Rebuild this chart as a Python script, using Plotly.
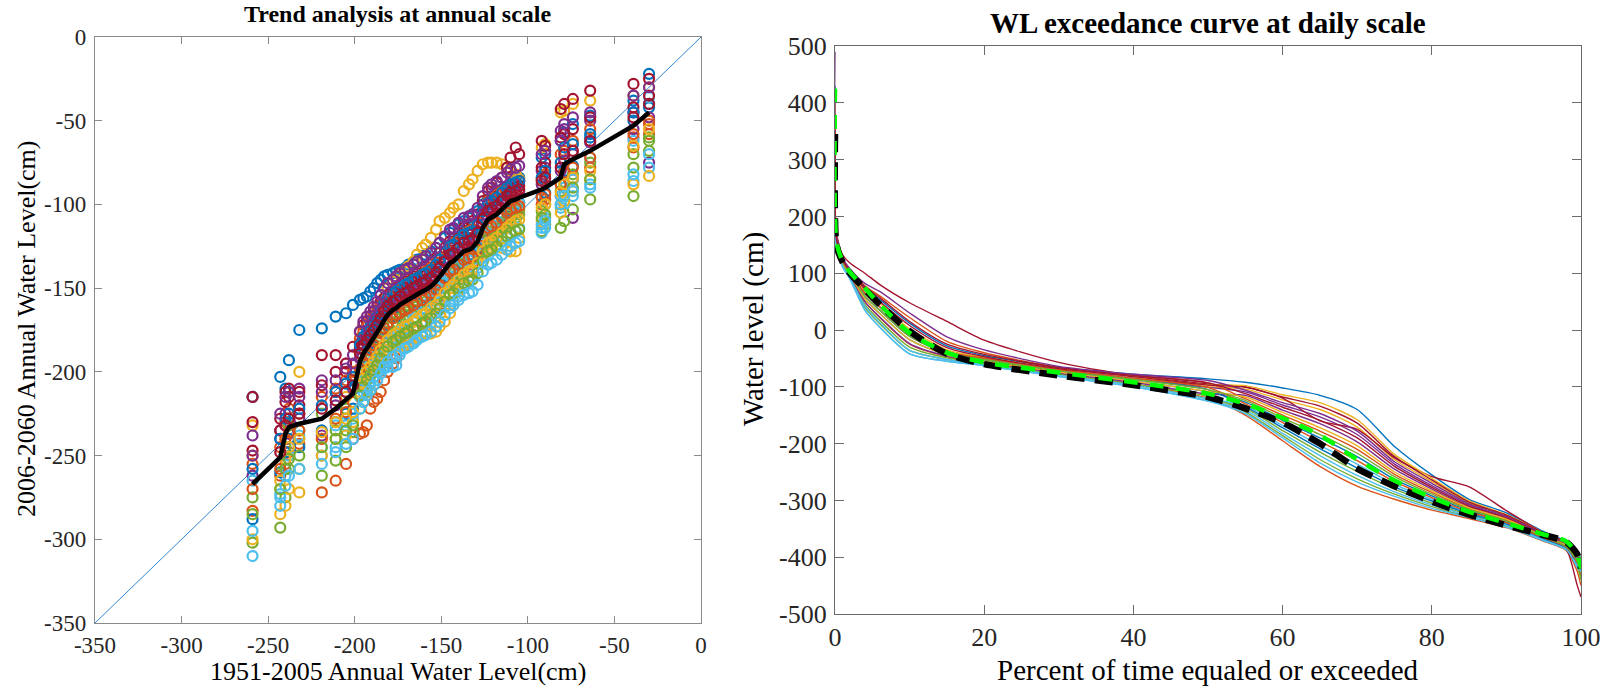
import plotly.graph_objects as go

FONT = "Liberation Serif"
MATLAB_COLORS = ['#0072BD', '#D95319', '#EDB120', '#7E2F8E', '#77AC30', '#4DBEEE', '#A2142F']

# ---------------- Left panel data ----------------
X_HIST = [-259, -243, -240, -238, -232, -219, -211, -205, -201,
          -197, -195, -193, -191, -189, -187, -185, -183, -181, -178,
          -176, -174, -171, -169, -166, -164, -161, -159, -156, -153,
          -151, -148, -145, -143, -140, -137, -134, -132, -129, -126,
          -123, -121, -118, -115, -112, -110, -107, -105,
          -92, -90, -81, -79, -74, -64, -39, -30]

MEAN_FUT = [-267, -251, -237, -233, -231, -228, -222, -217, -213,
            -194, -189, -186, -183, -180, -177, -173, -169, -166, -163,
            -162, -160, -158, -157, -155, -154, -152, -151, -149, -146,
            -143, -139, -135, -134, -131, -128, -127, -126, -122, -114,
            -109, -108, -106, -103, -100, -98, -97, -96,
            -91, -90, -84, -76, -73, -68, -53, -45]

S01 = [-215, -203, -210, -193, -175, -174, -167, -165, -160,
       -157, -156, -155, -152, -150, -147, -145, -143, -142, -141,
       -140, -139, -138, -136, -135, -133, -132, -130, -128, -126,
       -123, -120, -117, -115, -112, -110, -108, -106, -104, -100,
       -97, -95, -93, -91, -89, -87, -85, -84,
       -72, -70, -62, -57, -52, -47, -38, -22]
S02 = [-283, -262, -255, -248, -243, -272, -265, -255, -240,
       -237, -236, -232, -222, -218, -216, -212, -205, -200, -195,
       -192, -188, -185, -180, -178, -175, -172, -170, -166, -162,
       -160, -155, -150, -147, -143, -140, -138, -136, -132, -126,
       -121, -118, -116, -113, -110, -107, -105, -103,
       -100, -97, -95, -90, -85, -78, -66, -58]
S03 = [-232, -270, -240, -228, -200, -240, -228, -215, -205,
       -185, -183, -180, -175, -170, -165, -160, -156, -150, -146,
       -145, -142, -140, -137, -134, -130, -126, -124, -120, -115,
       -110, -108, -105, -102, -100, -92, -88, -85, -80, -76,
       -75, -75, -75, -76, -78, -80, -82, -85,
       -66, -64, -45, -44, -40, -38, -35, -30]
S04 = [-238, -235, -225, -230, -210, -205, -212, -195, -190,
       -183, -180, -177, -174, -171, -168, -165, -162, -158, -155,
       -153, -152, -150, -148, -146, -145, -143, -142, -140, -137,
       -135, -132, -128, -126, -123, -120, -118, -117, -113, -106,
       -100, -99, -97, -94, -91, -90, -88, -86,
       -80, -78, -56, -55, -108, -50, -45, -75]
S05 = [-302, -293, -275, -258, -258, -262, -253, -245, -236,
       -222, -218, -212, -207, -203, -198, -195, -190, -187, -183,
       -180, -177, -175, -172, -170, -168, -165, -163, -160, -157,
       -154, -150, -146, -143, -140, -136, -133, -131, -128, -124,
       -120, -118, -115, -113, -112, -110, -108, -106,
       -116, -112, -114, -110, -103, -97, -95, -62]
S06 = [-310, -273, -262, -250, -240, -250, -245, -232, -228,
       -215, -212, -210, -206, -203, -200, -199, -198, -197, -197,
       -196, -190, -186, -183, -182, -180, -178, -176, -172, -167,
       -163, -161, -160, -158, -155, -150, -146, -143, -138, -132,
       -128, -126, -124, -122, -120, -118, -116, -114,
       -117, -114, -102, -100, -95, -88, -86, -78]
S07 = [-215, -235, -212, -210, -212, -190, -190, -200, -205,
       -176, -172, -170, -167, -164, -161, -158, -156, -154, -152,
       -150, -148, -146, -144, -143, -141, -139, -137, -135, -132,
       -129, -126, -122, -120, -117, -114, -112, -110, -106, -98,
       -92, -90, -87, -84, -78, -72, -66, -70,
       -62, -65, -43, -40, -37, -32, -28, -25]
S08 = [-288, -260, -248, -240, -245, -235, -230, -225, -222,
       -205, -200, -196, -192, -188, -185, -180, -176, -172, -168,
       -167, -165, -163, -161, -160, -159, -157, -156, -154, -150,
       -147, -143, -139, -138, -135, -132, -131, -130, -126, -118,
       -113, -112, -110, -107, -104, -102, -100, -99,
       -95, -93, -88, -80, -77, -60, -50, -42]
S09 = [-255, -245, -230, -222, -225, -215, -210, -205, -200,
       -180, -176, -173, -170, -167, -164, -161, -158, -155, -153,
       -151, -150, -148, -147, -145, -144, -142, -140, -138, -135,
       -132, -129, -125, -123, -121, -118, -116, -115, -111, -104,
       -98, -96, -94, -92, -90, -88, -87, -86,
       -85, -82, -70, -68, -62, -55, -60, -52]
S10 = [-300, -285, -280, -270, -272, -250, -240, -238, -230,
       -212, -207, -203, -200, -196, -192, -190, -188, -187, -186,
       -185, -185, -184, -182, -180, -179, -178, -177, -177, -176,
       -173, -170, -165, -160, -152, -148, -144, -140, -135, -130,
       -126, -124, -125, -126, -127, -128, -128, -120,
       -110, -108, -105, -98, -92, -85, -88, -83]
S11 = [-262, -240, -232, -237, -228, -238, -220, -212, -210,
       -192, -186, -183, -180, -176, -173, -170, -167, -164, -162,
       -160, -158, -157, -155, -153, -152, -151, -150, -148, -145,
       -142, -138, -134, -133, -130, -127, -125, -124, -119, -112,
       -107, -105, -103, -100, -97, -95, -93, -92,
       -88, -86, -80, -74, -70, -63, -55, -48]
S12 = [-275, -255, -245, -232, -235, -225, -235, -222, -218,
       -200, -196, -193, -190, -186, -182, -179, -176, -173, -171,
       -170, -168, -166, -164, -163, -161, -160, -158, -156, -153,
       -150, -147, -143, -141, -138, -135, -133, -132, -128, -122,
       -117, -116, -114, -111, -108, -106, -104, -102,
       -104, -100, -92, -88, -82, -75, -70, -60]
S13 = [-265, -275, -258, -245, -238, -245, -232, -230, -225,
       -209, -205, -200, -196, -193, -190, -187, -184, -182, -180,
       -178, -176, -174, -172, -168, -165, -162, -160, -157, -153,
       -150, -147, -143, -140, -137, -134, -131, -128, -124, -118,
       -114, -112, -110, -108, -105, -103, -101, -99,
       -112, -108, -95, -90, -85, -72, -62, -36]
S14 = [-247, -228, -218, -215, -220, -208, -200, -195, -185,
       -186, -181, -178, -175, -172, -170, -167, -163, -160, -158,
       -157, -155, -153, -151, -149, -148, -146, -145, -143, -140,
       -137, -134, -130, -129, -126, -123, -121, -120, -116, -108,
       -103, -102, -100, -97, -94, -92, -90, -89,
       -78, -75, -60, -58, -55, -48, -42, -35]
S15 = [-258, -240, -228, -225, -222, -220, -212, -207, -203,
       -184, -179, -176, -173, -170, -167, -163, -159, -156, -153,
       -152, -150, -148, -147, -145, -144, -142, -141, -139, -136,
       -133, -129, -125, -124, -121, -118, -117, -116, -112, -104,
       -99, -98, -96, -93, -90, -88, -87, -86,
       -84, -80, -75, -66, -64, -58, -45, -40]
S16 = [-270, -258, -240, -236, -235, -240, -228, -224, -218,
       -198, -194, -190, -187, -184, -181, -177, -174, -171, -168,
       -166, -165, -163, -162, -160, -158, -157, -155, -153, -151,
       -148, -144, -140, -139, -136, -133, -132, -131, -127, -119,
       -114, -113, -111, -108, -105, -103, -102, -101,
       -96, -94, -88, -81, -78, -72, -58, -50]
S17 = [-250, -265, -252, -245, -240, -236, -230, -228, -224,
       -208, -204, -200, -197, -194, -191, -187, -184, -181, -178,
       -177, -175, -173, -172, -170, -168, -166, -165, -162, -160,
       -157, -153, -150, -148, -145, -142, -140, -139, -135, -128,
       -123, -122, -120, -117, -114, -112, -110, -109,
       -102, -100, -93, -88, -84, -80, -65, -55]
S18 = [-250, -225, -215, -212, -215, -212, -205, -198, -195,
       -176, -170, -167, -164, -161, -158, -154, -150, -147, -145,
       -143, -141, -139, -138, -136, -134, -133, -131, -129, -126,
       -123, -119, -115, -114, -111, -108, -107, -106, -102, -95,
       -90, -88, -86, -84, -81, -79, -78, -77,
       -70, -68, -62, -52, -48, -45, -35, -30]
S19 = [-285, -270, -258, -252, -250, -245, -240, -235, -232,
       -214, -209, -205, -202, -199, -196, -192, -188, -185, -182,
       -181, -179, -177, -176, -174, -173, -171, -170, -168, -165,
       -162, -158, -154, -153, -150, -147, -146, -145, -141, -134,
       -128, -127, -125, -122, -119, -117, -116, -115,
       -108, -106, -100, -95, -90, -85, -78, -68]
S20 = [-295, -280, -268, -262, -258, -255, -248, -243, -240,
       -222, -218, -214, -211, -208, -205, -201, -197, -194, -191,
       -190, -188, -186, -185, -183, -181, -179, -178, -176, -173,
       -170, -166, -162, -160, -157, -154, -153, -152, -148, -140,
       -136, -135, -133, -130, -127, -125, -123, -122,
       -114, -110, -100, -95, -92, -90, -82, -70]
S21 = [-230, -248, -232, -228, -225, -222, -217, -212, -208,
       -189, -184, -181, -178, -175, -172, -168, -164, -161, -158,
       -157, -155, -153, -152, -150, -149, -147, -146, -144, -141,
       -138, -134, -130, -129, -126, -123, -122, -121, -117, -109,
       -104, -103, -101, -98, -95, -93, -92, -91,
       -86, -84, -78, -70, -68, -62, -48, -40]
MODEL_SERIES = [S01, S02, S03, S04, S05, S06, S07, S08, S09, S10, S11, S12, S13, S14,
                S15, S16, S17, S18, S19, S20, S21]

ONE_TO_ONE = [-350, 0]
LEFT_TICKS = [-350, -300, -250, -200, -150, -100, -50, 0]
LEFT_TICKTEXT = ['-350', '-300', '-250', '-200', '-150', '-100', '-50', '0']

# ---------------- Right panel data ----------------
EXC_PCT = [0, 0.2, 1, 2, 4, 6, 10, 15, 20, 30, 40, 50, 55, 60, 65, 70, 75, 80, 85, 90, 95, 98, 99.5, 100]

C01 = [430, 161, 124, 105, 74, 54, 12, -28, -45, -66, -78, -86, -92, -102, -115, -140, -205, -255, -298, -322, -355, -372, -390, -405]
C02 = [400, 155, 117, 96, 50, 22, -25, -47, -58, -77, -95, -120, -150, -195, -240, -275, -298, -317, -332, -348, -372, -388, -425, -450]
C03 = [300, 157, 120, 100, 60, 35, -11, -41, -52, -72, -87, -100, -104, -123, -140, -171, -228, -267, -305, -327, -358, -375, -398, -410]
C04 = [490, 159, 122, 102, 65, 41, -5, -38, -50, -70, -85, -101, -109, -132, -153, -184, -236, -274, -308, -330, -360, -377, -400, -415]
C05 = [250, 153, 115, 94, 45, 17, -30, -49, -59, -78, -95, -117, -144, -186, -228, -262, -289, -311, -329, -345, -370, -386, -417, -440]
C06 = [220, 150, 112, 90, 35, 5, -42, -55, -63, -82, -100, -125, -147, -190, -234, -268, -293, -314, -330, -347, -371, -387, -418, -430]
C07 = [260, 170, 133, 118, 100, 80, 48, 15, -18, -57, -80, -95, -100, -120, -160, -175, -225, -258, -276, -318, -358, -385, -450, -470]
C08 = [200, 156, 118, 98, 55, 29, -17, -44, -55, -74, -90, -109, -127, -159, -190, -223, -263, -292, -318, -338, -365, -382, -409, -420]
C09 = [350, 162, 125, 106, 78, 60, 22, -20, -40, -66, -80, -93, -121, -150, -178, -210, -254, -286, -315, -335, -364, -380, -406, -425]
C10 = [280, 160, 123, 104, 70, 47, 2, -35, -48, -68, -82, -97, -98, -114, -128, -158, -219, -261, -301, -325, -357, -374, -395, -405]
C11 = [240, 155, 117, 96, 50, 23, -24, -46, -57, -76, -92, -113, -115, -141, -165, -197, -245, -280, -312, -332, -362, -378, -403, -412]
C12 = [190, 151, 113, 92, 40, 11, -36, -52, -61, -80, -97, -121, -138, -177, -215, -249, -280, -305, -325, -343, -369, -385, -414, -435]
C13 = [185, 151, 113, 92, 42, 13, -36, -52, -61, -80, -97, -121, -133, -168, -203, -236, -272, -298, -322, -340, -367, -383, -412, -422]
C14 = [320, 162, 125, 106, 76, 57, 15, -25, -43, -66, -80, -93, -112, -136, -159, -190, -240, -277, -310, -331, -361, -377, -402, -418]
C15 = [210, 157, 120, 100, 60, 35, -11, -41, -52, -72, -87, -105, -135, -172, -209, -243, -276, -301, -323, -342, -368, -384, -413, -425]
C16 = [230, 159, 122, 102, 65, 41, -5, -38, -50, -70, -85, -101, -130, -163, -196, -230, -267, -295, -320, -339, -366, -382, -410, -430]
C17 = [180, 156, 118, 98, 55, 29, -17, -44, -55, -74, -90, -108, -118, -145, -172, -204, -250, -283, -313, -333, -363, -379, -404, -415]
C18 = [175, 164, 127, 108, 82, 68, 30, -12, -35, -64, -78, -89, -106, -128, -147, -178, -232, -270, -306, -328, -359, -376, -399, -410]
C19 = [170, 157, 120, 100, 60, 35, -11, -41, -52, -72, -87, -105, -124, -155, -184, -217, -258, -289, -316, -336, -364, -381, -407, -428]
C20 = [168, 150, 112, 90, 35, 5, -42, -55, -63, -82, -100, -125, -141, -182, -221, -256, -285, -308, -327, -344, -370, -386, -415, -425]
C21 = [380, 160, 123, 104, 72, 50, 8, -31, -47, -68, -82, -97, -101, -118, -134, -164, -223, -264, -303, -326, -357, -374, -396, -410]
CURVES = [C01, C02, C03, C04, C05, C06, C07, C08, C09, C10, C11, C12, C13, C14, C15, C16, C17, C18, C19, C20, C21]

ENS_BLACK = [345, 150, 120, 100, 72, 45, -2, -42, -60, -80, -97, -118, -138, -163, -200, -244, -275, -302, -325, -344, -361, -373, -395, -420]
ENS_GREEN = [425, 155, 122, 102, 74, 45, -5, -40, -57, -75, -92, -112, -130, -155, -185, -228, -265, -295, -320, -340, -360, -372, -395, -420]

RIGHT_XTICKS = [0, 20, 40, 60, 80, 100]
RIGHT_XTICKTEXT = ['0', '20', '40', '60', '80', '100']
RIGHT_YTICKS = [-500, -400, -300, -200, -100, 0, 100, 200, 300, 400, 500]
RIGHT_YTICKTEXT = ['-500', '-400', '-300', '-200', '-100', '0', '100', '200', '300', '400', '500']

for s in MODEL_SERIES:
    assert len(s) == len(X_HIST), len(s)
assert len(MEAN_FUT) == len(X_HIST)
for c in CURVES + [ENS_BLACK, ENS_GREEN]:
    assert len(c) == len(EXC_PCT), len(c)

W, H = 1606, 690
def px(x):
    return x / W
def py(y):
    return 1 - y / H

fig = go.Figure()

# Left panel
fig.add_trace(go.Scatter(x=ONE_TO_ONE, y=ONE_TO_ONE, mode='lines',
                         line=dict(color='#2f86d0', width=1), xaxis='x', yaxis='y'))
for i, s in enumerate(MODEL_SERIES):
    col = MATLAB_COLORS[i % 7]
    fig.add_trace(go.Scatter(x=X_HIST, y=s, mode='markers', xaxis='x', yaxis='y',
                             marker=dict(symbol='circle-open', size=10, color=col,
                                         line=dict(width=2.2, color=col))))
fig.add_trace(go.Scatter(x=X_HIST, y=MEAN_FUT, mode='lines', xaxis='x', yaxis='y',
                         line=dict(color='black', width=4.5)))

# Right panel
for i, c in enumerate(CURVES):
    fig.add_trace(go.Scatter(x=EXC_PCT, y=c, mode='lines', xaxis='x2', yaxis='y2',
                             line=dict(color=MATLAB_COLORS[i % 7], width=1.4,
                                       shape='spline', smoothing=0.7)))
fig.add_trace(go.Scatter(x=EXC_PCT, y=ENS_BLACK, mode='lines', xaxis='x2', yaxis='y2',
                         line=dict(color='black', width=6.5, dash='18px,10px',
                                   shape='spline', smoothing=0.7)))
fig.add_trace(go.Scatter(x=EXC_PCT, y=ENS_GREEN, mode='lines', xaxis='x2', yaxis='y2',
                         line=dict(color='#00ff00', width=4.5, dash='14px,12px',
                                   shape='spline', smoothing=0.7)))

LCOL = '#8a8a8a'
RCOL = '#6a6a6a'
TICKCOL = '#262626'

def axis(domain, rng, tickvals, ticktext, anchor, col, size, ticklen, standoff):
    return dict(domain=domain, range=rng, tickvals=tickvals, ticktext=ticktext, anchor=anchor,
                showline=True, linecolor=col, linewidth=1.3, mirror='ticks',
                ticks='inside', ticklen=ticklen, tickcolor=col, tickwidth=1.3,
                showgrid=False, zeroline=False, ticklabelstandoff=standoff,
                automargin=False,
                tickfont=dict(family=FONT, size=size, color=TICKCOL))

fig.update_layout(
    width=W, height=H, margin=dict(l=0, r=0, t=0, b=0, pad=0, autoexpand=False),
    paper_bgcolor='white', plot_bgcolor='white', showlegend=False,
    hovermode=False,
    xaxis=axis([px(95), px(701)], [-350, 0], LEFT_TICKS, LEFT_TICKTEXT, 'y', LCOL, 23, 7, 1),
    yaxis=axis([1 - 623 / H, 1 - 37 / H], [-350, 0], LEFT_TICKS, LEFT_TICKTEXT, 'x', LCOL, 23, 7, 3),
    xaxis2=axis([px(835), px(1581)], [0, 100], RIGHT_XTICKS, RIGHT_XTICKTEXT, 'y2', RCOL, 26, 9, 0),
    yaxis2=axis([1 - 614 / H, 1 - 46 / H], [-500, 500], RIGHT_YTICKS, RIGHT_YTICKTEXT, 'x2', RCOL, 26, 9, 2),
)

def ann(text, x, y, size, angle=0, bold=False):
    fig.add_annotation(text=('<b>%s</b>' % text) if bold else text,
                       x=px(x), y=py(y), xref='paper', yref='paper',
                       xanchor='center', yanchor='middle', showarrow=False,
                       textangle=angle, font=dict(family=FONT, size=size, color='black'))

ann('Trend analysis at annual scale', 398, 14, 24, bold=True)
ann('1951-2005 Annual Water Level(cm)', 398, 671, 26)
ann('2006-2060 Annual Water Level(cm)', 26, 329, 26, angle=-90)
ann('WL exceedance curve at daily scale', 1208, 23, 29, bold=True)
ann('Percent of time equaled or exceeded', 1208, 670, 29)
ann('Water level (cm)', 753, 329, 29, angle=-90)

fig.write_html('out.html')
